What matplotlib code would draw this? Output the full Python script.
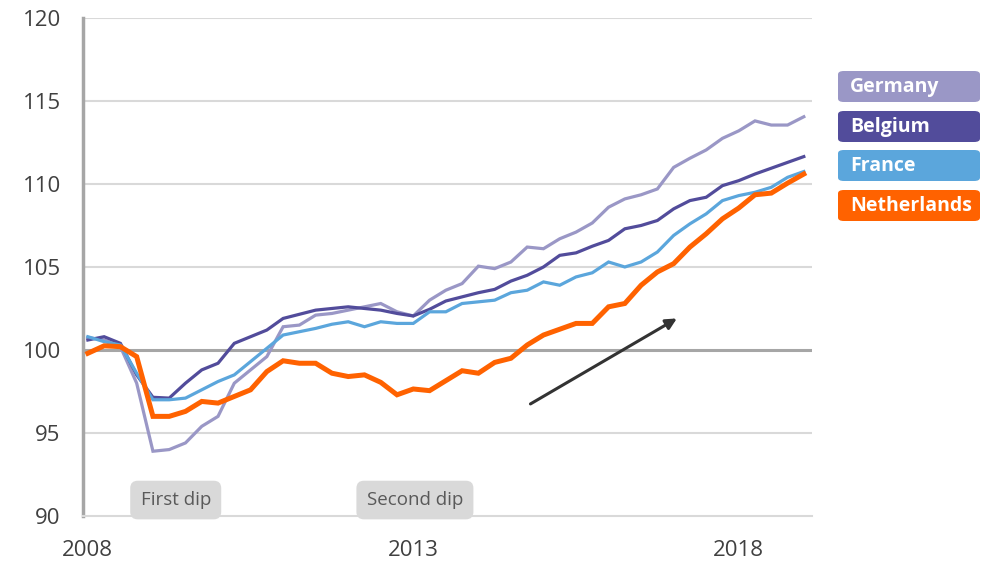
import matplotlib.pyplot as plt
from matplotlib.patches import FancyBboxPatch
import numpy as np

# quarterly index values, 2008Q1 .. 2019Q1
germany = [100.75, 100.6, 100.2, 98.0, 93.9, 94.0, 94.4, 95.4, 96.0, 98.0,
           98.8, 99.6, 101.4, 101.5, 102.1, 102.2, 102.4, 102.6, 102.8, 102.3,
           102.05, 103.0, 103.6, 104.0, 105.05, 104.9, 105.3, 106.2, 106.1, 106.7,
           107.1, 107.65, 108.6, 109.1, 109.35, 109.7, 111.0, 111.55, 112.05, 112.75,
           113.2, 113.8, 113.55, 113.55, 114.05]
belgium = [100.6, 100.8, 100.4, 98.5, 97.15, 97.1, 98.0, 98.8, 99.2, 100.4,
           100.8, 101.2, 101.9, 102.15, 102.4, 102.5, 102.6, 102.5, 102.4, 102.2,
           102.05, 102.45, 102.95, 103.2, 103.45, 103.65, 104.15, 104.5, 105.0, 105.7,
           105.85, 106.25, 106.6, 107.3, 107.5, 107.8, 108.5, 109.0, 109.2, 109.9,
           110.2, 110.6, 110.95, 111.3, 111.65]
france = [100.8, 100.5, 100.3, 98.6, 97.0, 97.0, 97.1, 97.6, 98.1, 98.5,
          99.3, 100.1, 100.9, 101.1, 101.3, 101.55, 101.7, 101.4, 101.7, 101.6,
          101.6, 102.3, 102.3, 102.8, 102.9, 103.0, 103.45, 103.6, 104.1, 103.9,
          104.4, 104.65, 105.3, 105.0, 105.3, 105.9, 106.9, 107.6, 108.2, 109.0,
          109.3, 109.5, 109.8, 110.4, 110.75]
netherlands = [99.8, 100.25, 100.2, 99.6, 96.0, 96.0, 96.3, 96.9, 96.8, 97.2,
               97.6, 98.7, 99.35, 99.2, 99.2, 98.6, 98.4, 98.5, 98.05, 97.3,
               97.65, 97.55, 98.15, 98.75, 98.6, 99.25, 99.5, 100.3, 100.9, 101.25,
               101.6, 101.6, 102.6, 102.8, 103.9, 104.7, 105.2, 106.2, 107.0, 107.9,
               108.55, 109.35, 109.45, 110.05, 110.6]

series_names = ['Germany', 'Belgium', 'France', 'Netherlands']
series_colors = ['#9A97C6', '#524C9B', '#5BA6DC', '#FF6200']
series_widths = [2.3, 2.3, 2.3, 3.6]

tick_pos = [0, 20, 40]
tick_labels = ['2008', '2013', '2018']

dips = [('First dip', 5.4), ('Second dip', 20.1)]

plt.rcParams['font.family'] = ['Open Sans', 'DejaVu Sans']

fig = plt.figure(figsize=(9.83, 5.62), dpi=100)
ax = fig.add_axes([0.0844, 0.0819, 0.7416, 0.8861])

x = np.arange(len(germany))
all_series = [germany, belgium, france, netherlands]
for vals, col, lw in zip(all_series, series_colors, series_widths):
    ax.plot(x, vals, color=col, lw=lw, solid_joinstyle='miter', zorder=3)

ax.set_ylim(90, 120)
ax.set_xlim(-0.3, 44.5)
ax.set_yticks(range(90, 121, 5))
ax.set_xticks(tick_pos)
ax.set_xticklabels(tick_labels)
ax.tick_params(axis='both', length=0, labelsize=16, colors='#404040')
ax.tick_params(axis='x', pad=17)
ax.tick_params(axis='y', pad=16)

for yv in range(95, 121, 5):
    if yv != 100:
        ax.axhline(yv, color='#D9D9D9', lw=1.5, zorder=1)
ax.axhline(100, color='#A6A6A6', lw=2.2, zorder=2)

for s in ['top', 'right']:
    ax.spines[s].set_visible(False)
ax.spines['left'].set_color('#A6A6A6')
ax.spines['left'].set_linewidth(2.5)
ax.spines['bottom'].set_color('#D9D9D9')
ax.spines['bottom'].set_linewidth(1.5)

# dip labels
for label, xp in dips:
    ax.text(xp, 90.96, label, ha='center', va='center', fontsize=13.5, color='#595959',
            bbox=dict(boxstyle='round,pad=0.55,rounding_size=0.4', fc='#D9D9D9', ec='none'),
            zorder=4)

# trend arrow
ax.annotate('', xy=(36.2, 101.9), xytext=(27.2, 96.75),
            arrowprops=dict(arrowstyle='-|>', color='#333333', lw=2.2, mutation_scale=16,
                            shrinkA=0, shrinkB=0),
            zorder=5)

# legend as coloured boxes
W, H = 983, 562
box_tops = [71, 111, 150, 190]
for name, col, top in zip(series_names, series_colors, box_tops):
    fig.patches.append(FancyBboxPatch((838 / W, 1 - (top + 31) / H), 142 / W, 31 / H,
                                      boxstyle='round,pad=0,rounding_size=0.006',
                                      transform=fig.transFigure, fc=col, ec='none'))
    fig.text(850 / W, 1 - (top + 16) / H, name, color='white', fontsize=14,
             fontweight='bold', ha='left', va='center')

fig.savefig('out.png', dpi=100)
